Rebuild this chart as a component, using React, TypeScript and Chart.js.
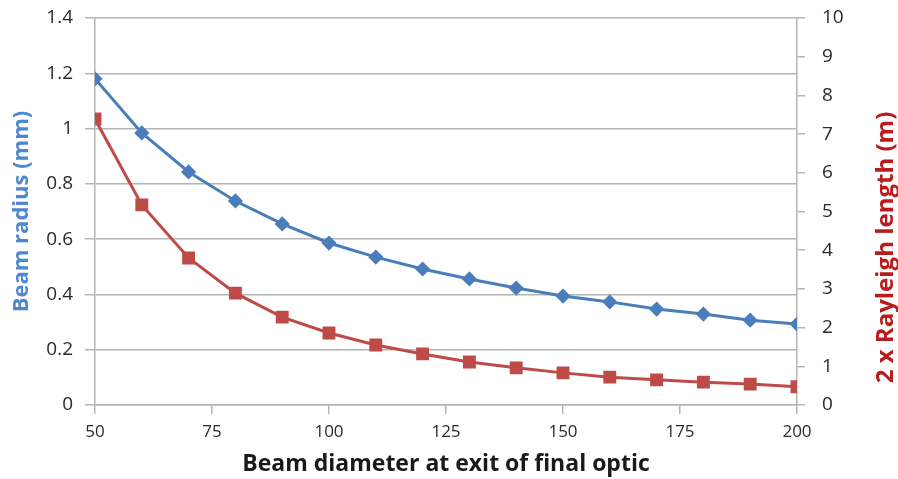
import React, { useEffect, useRef } from "react";
import { Chart, registerables } from "chart.js";

Chart.register(...registerables);

const beamDiameter = [50, 60, 70, 80, 90, 100, 110, 120, 130, 140, 150, 160, 170, 180, 190, 200];
const beamRadius = [1.18, 0.984, 0.843, 0.738, 0.655, 0.586, 0.535, 0.492, 0.456, 0.423, 0.394, 0.373, 0.347, 0.329, 0.307, 0.293];
const rayleigh2x = [7.39, 5.17, 3.8, 2.89, 2.27, 1.86, 1.55, 1.32, 1.11, 0.96, 0.83, 0.72, 0.65, 0.59, 0.54, 0.47];

const xTitle = "Beam diameter at exit of final optic";
const leftTitle = "Beam radius (mm)";
const rightTitle = "2 x Rayleigh length (m)";

const FONT = "'Open Sans', 'Liberation Sans', sans-serif";
const GRID = "#b4b4b4";
const TICK = "#2a2a2a";

const rightTitlePlugin = {
  id: "rightTitle",
  afterDraw(chart: any) {
    const { ctx, chartArea } = chart;
    ctx.save();
    ctx.font = `bold 24px ${FONT}`;
    ctx.fillStyle = "#b81c1c";
    ctx.textAlign = "center";
    ctx.textBaseline = "middle";
    ctx.translate(886, (chartArea.top + chartArea.bottom) / 2 + 36);
    ctx.rotate(-Math.PI / 2);
    ctx.fillText(rightTitle, 0, 0);
    ctx.restore();
  },
};

export default function App() {
  const ref = useRef<HTMLCanvasElement | null>(null);
  useEffect(() => {
    if (!ref.current) return;
    const chart = new Chart(ref.current, {
      type: "line",
      data: {
        datasets: [
          {
            label: "Beam radius",
            data: beamDiameter.map((x, i) => ({ x, y: beamRadius[i] })),
            borderColor: "#4a7ebb",
            backgroundColor: "#4a7ebb",
            borderWidth: 3,
            pointStyle: "rectRot",
            pointRadius: 5.5,
            yAxisID: "y",
          },
          {
            label: "2 x Rayleigh length",
            data: beamDiameter.map((x, i) => ({ x, y: rayleigh2x[i] })),
            borderColor: "#be4b48",
            backgroundColor: "#be4b48",
            borderWidth: 3,
            pointStyle: "rect",
            pointRadius: 7,
            yAxisID: "y1",
          },
        ],
      },
      options: {
        responsive: false,
        animation: false,
        layout: { padding: { top: 18, left: 0, right: 0, bottom: 0 } },
        plugins: { legend: { display: false }, tooltip: { enabled: false } },
        scales: {
          x: {
            type: "linear",
            min: 50,
            max: 200,
            ticks: { stepSize: 25, font: { family: FONT, size: 17 }, color: TICK, padding: 8 },
            grid: { drawOnChartArea: false, tickLength: 9, color: GRID, lineWidth: 1.5 },
            border: { color: GRID, width: 1.5 },
            title: {
              display: true,
              text: xTitle,
              font: { family: FONT, size: 23, weight: "bold" },
              color: "#1a1a1a",
              padding: { top: 0, bottom: 1 },
            },
            afterFit(s: any) { s.height = 74; s.paddingLeft = 0; s.paddingRight = 0; },
          },
          y: {
            position: "left",
            min: 0,
            max: 1.4,
            ticks: {
              stepSize: 0.2,
              font: { family: FONT, size: 19 },
              color: TICK,
              padding: 12,
              callback: (v: any) => String(Math.round(Number(v) * 10) / 10),
            },
            grid: { color: GRID, tickLength: 10, lineWidth: 1.5 },
            border: { color: GRID, width: 1.5 },
            title: {
              display: true,
              text: leftTitle,
              font: { family: FONT, size: 22, weight: "bold" },
              color: "#4f88d0",
              padding: { top: 9, bottom: 0 },
            },
            afterFit(s: any) { s.width = 95; s.paddingTop = 0; s.paddingBottom = 0; },
          },
          y1: {
            position: "right",
            min: 0,
            max: 10,
            ticks: { stepSize: 1, font: { family: FONT, size: 19 }, color: TICK, padding: 17 },
            grid: { drawOnChartArea: false, color: GRID, tickLength: 8, lineWidth: 1.5 },
            border: { color: GRID, width: 1.5 },
            afterFit(s: any) { s.width = 101; s.paddingTop = 0; s.paddingBottom = 0; },
          },
        },
      },
      plugins: [rightTitlePlugin],
    } as any);
    return () => chart.destroy();
  }, []);
  return (
    <div style={{ position: "absolute", left: 0, top: 0, width: 898, height: 479, background: "#fff" }}>
      <canvas ref={ref} width={898} height={479} style={{ display: "block" }} />
    </div>
  );
}
